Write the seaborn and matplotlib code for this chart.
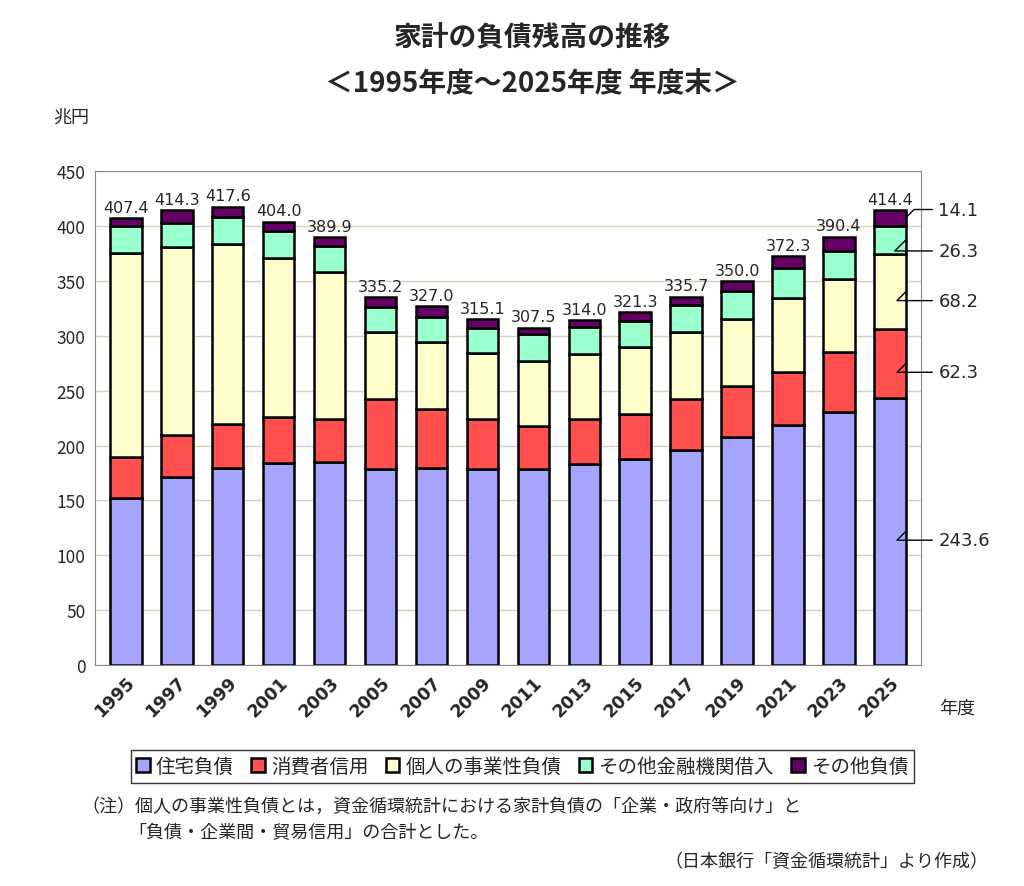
import matplotlib.pyplot as plt
import numpy as np
import pandas as pd
import seaborn as sns

years = [str(y) for y in range(1995, 2026, 2)]
housing = [152, 171, 180, 184, 185, 179, 180, 179, 179, 183, 188, 196, 208, 219, 231, 243.6]
consumer = [38, 39, 40, 42, 39, 63, 53, 45, 39, 41, 41, 46, 46, 48, 54, 62.3]
business = [185, 171, 164, 145, 134, 61, 61, 60, 59, 59, 61, 61, 61, 67, 67, 68.2]
other_fin = [25, 22, 24, 24, 24, 23, 23, 23, 25, 25, 23, 25, 26, 28, 25, 26.3]
other = [7.4, 11.3, 9.6, 9.0, 7.9, 9.2, 10.0, 8.1, 5.5, 6.0, 8.3, 7.7, 9.0, 10.3, 13.4, 14.1]
totals = ["407.4", "414.3", "417.6", "404.0", "389.9", "335.2", "327.0", "315.1", "307.5",
          "314.0", "321.3", "335.7", "350.0", "372.3", "390.4", "414.4"]
names = ["住宅負債", "消費者信用", "個人の事業性負債", "その他金融機関借入", "その他負債"]
colors = ["#a5a5ff", "#ff4f4f", "#ffffcc", "#99ffcc", "#660066"]

sns.set_style("white")
plt.rcParams['font.family'] = ['Noto Sans CJK JP', 'DejaVu Sans']

fig = plt.figure(figsize=(10.24, 8.87), dpi=100)
ax = fig.add_axes([0.093, 0.249, 0.806, 0.557])
series = [housing, consumer, business, other_fin, other]
bottom = np.zeros(len(years))
for vals, name, c in zip(series, names, colors):
    df = pd.DataFrame({"year": years, "v": vals})
    sns.barplot(data=df, x="year", y="v", ax=ax, color=c, bottom=bottom, width=0.62,
                edgecolor="black", linewidth=1.8, label=name, saturation=1)
    bottom = bottom + np.array(vals)

for i, t in enumerate(totals):
    ax.text(i, bottom[i] + 3, t, ha="center", va="bottom", fontsize=11.5, family="DejaVu Sans")

ax.set_ylim(0, 450)
ax.set_xlim(-0.6, len(years) - 0.4)
ax.set_yticks(range(0, 451, 50))
ax.yaxis.grid(True, color="#d8d0b8", linewidth=1)
ax.set_axisbelow(True)
for s in ax.spines.values():
    s.set_color("#888888")
ax.set_xlabel("")
ax.set_ylabel("")
ax.tick_params(axis="y", labelsize=12.5, left=False)
ax.set_xticks(range(len(years)))
ax.set_xticklabels(years, rotation=45, ha="right", rotation_mode="anchor", fontsize=12.5,
                   fontweight="bold", family="DejaVu Sans")
ax.tick_params(axis="x", bottom=False, pad=2)

# right-side labels for 2025
last = len(years) - 1
cum = np.cumsum([s[last] for s in series])
mids = cum - np.array([s[last] for s in series]) / 2
label_y = [mids[0] - 8, mids[1] - 8, mids[2] - 8, mids[3] - 10, 415]
for m, ly, s in zip(mids, label_y, series):
    ax.annotate(f"{s[last]}", xy=(last + 0.31, m), xytext=(last + 0.95, ly),
                fontsize=13, va="center", ha="left", family="DejaVu Sans",
                arrowprops=dict(arrowstyle="-", color="black", lw=1, shrinkA=2, shrinkB=0,
                                connectionstyle="angle,angleA=0,angleB=45,rad=0"),
                annotation_clip=False)

fig.text(0.52, 0.948, "家計の負債残高の推移", ha="center", fontsize=20, fontweight="bold")
fig.text(0.52, 0.897, "＜1995年度～2025年度 年度末＞", ha="center", fontsize=20, fontweight="bold")
fig.text(0.052, 0.862, "兆円", fontsize=13)
fig.text(0.917, 0.195, "年度", fontsize=13)

handles, labels = ax.get_legend_handles_labels()
fig.legend(handles, labels, loc="center", bbox_to_anchor=(0.51, 0.135), ncol=5,
           fontsize=14, frameon=True, edgecolor="black", fancybox=False,
           handlelength=0.7, handletextpad=0.3, columnspacing=0.9, borderpad=0.3)
if ax.legend_:
    ax.legend_.remove()

fig.text(0.08, 0.085, "（注）個人の事業性負債とは，資金循環統計における家計負債の「企業・政府等向け」と",
         fontsize=13)
fig.text(0.125, 0.055, "「負債・企業間・貿易信用」の合計とした。", fontsize=13)
fig.text(0.965, 0.022, "（日本銀行「資金循環統計」より作成）", fontsize=13, ha="right")

fig.savefig("out.png", dpi=100, facecolor="white")
